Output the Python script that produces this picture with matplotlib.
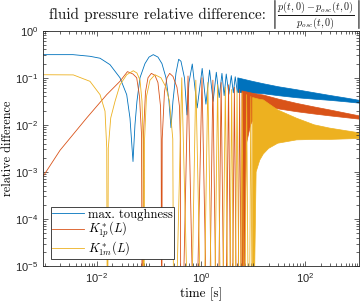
"""
    Relative difference of the fluid pressure, log-log plot
"""

import numpy as np
import matplotlib
matplotlib.use("Agg")
from matplotlib import pyplot as plt
from matplotlib.ticker import LogLocator, NullFormatter

plt.rcParams['font.family'] = ['Liberation Sans', 'DejaVu Sans']
plt.rcParams['mathtext.fontset'] = 'cm'

# --- max. toughness (blue): single oscillations, then dense band
blue_t = [9.4e-4, 0.0035, 0.00743, 0.0116, 0.018, 0.028, 0.0377, 0.0436, 0.0498,
          0.0543, 0.0593, 0.0678, 0.0845, 0.101, 0.122, 0.150, 0.179, 0.214, 0.244,
          0.267, 0.291, 0.333, 0.375, 0.415, 0.484, 0.541, 0.591, 0.684, 0.85, 1.06,
          1.25, 1.47, 1.72, 1.98, 2.25, 2.54, 2.8, 3.07, 3.45, 3.84, 4.2, 4.57, 5.0]
blue_v = [0.31, 0.31, 0.286, 0.26, 0.19, 0.10, 0.0437, 0.0138, 0.00166,
          0.01, 0.0316, 0.1, 0.2, 0.275, 0.31, 0.275, 0.2, 0.1, 0.0316,
          0.0087, 0.0316, 0.126, 0.247, 0.224, 0.1, 0.0162, 0.079, 0.196, 0.0229, 0.158,
          0.0275, 0.146, 0.0316, 0.131, 0.038, 0.124, 0.0417, 0.12, 0.0447, 0.111, 0.0479, 0.105, 0.05]
blue_band_t = [5.0, 7.0, 10.0, 15.8, 30, 69, 150, 300, 600, 1100]
blue_band_hi = [0.102, 0.0933, 0.0851, 0.0762, 0.0661, 0.0569, 0.049, 0.043, 0.038, 0.0339]
blue_band_lo = [0.0501, 0.049, 0.0479, 0.0468, 0.0427, 0.0385, 0.0359, 0.0339, 0.0316, 0.0295]

# --- K*_1p(L) (orange)
orange_t = [9.4e-4, 0.00198, 0.00643, 0.01556, 0.028, 0.039, 0.0498, 0.0586, 0.0664, 0.0725,
            0.0757, 0.0791, 0.0865, 0.0966, 0.112, 0.1315, 0.150, 0.168, 0.173, 0.177,
            0.181, 0.2, 0.2235, 0.252, 0.291, 0.3475, 0.388, 0.403, 0.415, 0.567,
            0.771, 1.05, 1.39, 1.7, 2.07, 2.45, 2.90, 3.4, 3.90, 4.4, 5.00, 5.55, 6.15]
orange_v = [8.1e-4, 0.00288, 0.014, 0.0437, 0.0841, 0.135, 0.12, 0.1, 0.04, 0.0063,
            1e-8, 0.0063, 0.05, 0.1, 0.124, 0.112, 0.079, 0.025, 0.005, 1e-8,
            0.005, 0.05, 0.1, 0.124, 0.107, 0.063, 0.025, 0.005, 1e-8, 0.109,
            1e-8, 0.1, 1e-8, 0.089, 1e-8, 0.079, 1e-8, 0.0708, 1e-8, 0.063, 1e-8, 0.056, 1e-8]
orange_band_t = [6.15, 7.5, 9, 11, 15.8, 30, 69, 150, 300, 1100]
orange_band_hi = [0.0525, 0.0501, 0.0479, 0.0457, 0.043, 0.0355, 0.0286, 0.024, 0.0207, 0.0155]
orange_band_lo = [1e-8, 0.004, 0.01, 0.0158, 0.0243, 0.0219, 0.019, 0.017, 0.0155, 0.0132]

# --- K*_1m(L) (yellow)
yellow_t = [9.4e-4, 0.00356, 0.00743, 0.0116, 0.01445, 0.0156, 0.0161, 0.0167, 0.0186, 0.0225,
            0.028, 0.0377, 0.0505, 0.0593, 0.0678, 0.0741, 0.0775, 0.0802, 0.083, 0.0903,
            0.1055, 0.1315, 0.1714, 0.214, 0.2495, 0.289, 0.305, 0.43, 0.618, 0.80,
            1.08, 1.36, 1.73, 2.1, 2.51, 2.95, 3.46, 3.9, 4.38, 4.95, 5.63, 6.2,
            6.81, 7.55, 8.38, 9.1, 9.87]
yellow_v = [0.116, 0.115, 0.084, 0.0437, 0.0195, 0.0032, 1e-8, 0.0032, 0.014, 0.0316,
            0.0708, 0.116, 0.141, 0.126, 0.089, 0.0316, 0.005, 1e-8, 0.005, 0.04,
            0.089, 0.116, 0.1, 0.063, 0.0316, 0.005, 1e-8, 0.1, 1e-8, 0.089,
            1e-8, 0.079, 1e-8, 0.0708, 1e-8, 0.063, 1e-8, 0.0562, 1e-8, 0.0525, 1e-8, 0.0479,
            1e-8, 0.0437, 1e-8, 0.0398, 1e-8]
yellow_band_t = [9.87, 11.5, 13.5, 15.8, 20, 30, 69, 150, 300, 1100]
yellow_band_hi = [0.038, 0.0363, 0.0347, 0.0339, 0.0282, 0.0207, 0.0138, 0.01, 0.0085, 0.00676]
yellow_band_lo = [1e-8, 0.001, 0.00178, 0.0024, 0.00316, 0.00407, 0.00479, 0.0049, 0.0049, 0.00513]

labels = ['max. toughness', r'$K^*_{1p}(L)$', r'$K^*_{1m}(L)$']
colors = ['#0072BD', '#D95319', '#EDB120']

fig = plt.figure(figsize=(3.6, 3.04), dpi=100)
ax = fig.add_axes([0.120, 0.125, 0.878, 0.774])

series = [(blue_t, blue_v, blue_band_t, blue_band_lo, blue_band_hi),
          (orange_t, orange_v, orange_band_t, orange_band_lo, orange_band_hi),
          (yellow_t, yellow_v, yellow_band_t, yellow_band_lo, yellow_band_hi)]
for (t, v, bt, lo, hi), c, lab in zip(series, colors, labels):
    ax.plot(t, v, color=c, lw=0.6, label=lab)
    ax.fill_between(bt, lo, hi, color=c, lw=0.5)

ax.set_xscale('log')
ax.set_yscale('log')
ax.set_xlim(9.4e-4, 1.1e3)
ax.set_ylim(1e-5, 1)
ax.set_xticks([1e-2, 1, 1e2])
ax.set_yticks([1e-5, 1e-4, 1e-3, 1e-2, 1e-1, 1])
ax.xaxis.set_minor_locator(LogLocator(base=10, subs=np.arange(1, 10), numticks=30))
ax.xaxis.set_minor_formatter(NullFormatter())
ax.yaxis.set_minor_locator(LogLocator(base=10, subs=np.arange(2, 10), numticks=30))
ax.yaxis.set_minor_formatter(NullFormatter())
ax.tick_params(which='both', direction='in', top=True, right=True,
               colors='#262626', labelsize=8, width=0.5)
ax.tick_params(which='major', length=3.5)
ax.tick_params(which='minor', length=2)
for s in ax.spines.values():
    s.set_color('#262626')
    s.set_linewidth(0.6)

# title: text part and the fraction are set separately (as in the LaTeX original)
fig.text(266 / 360, 1 - 19.5 / 304, 'fluid pressure relative difference:',
         family='cmr10', fontsize=11, ha='right', va='baseline', color='#1a1a1a')
fig.text(270 / 360, 1 - 15.5 / 304,
         r'$\left|\frac{p(t,0)-p_{osc}(t,0)}{p_{osc}(t,0)}\right|$',
         fontsize=10.5, ha='left', va='center', color='#1a1a1a')

ax.set_xlabel('time [s]', family='cmr10', fontsize=9.5, labelpad=2)
ax.set_ylabel('relative difference', family='cmr10', fontsize=8.8, labelpad=1)

leg = ax.legend(loc='lower left', prop={'family': 'cmr10', 'size': 9}, fancybox=False,
                framealpha=1, edgecolor='#262626', handlelength=2.6, borderpad=0.1,
                labelspacing=-0.05, handletextpad=0.3, borderaxespad=0.6)
leg.get_frame().set_linewidth(0.6)

plt.savefig("out.png", dpi=100)
